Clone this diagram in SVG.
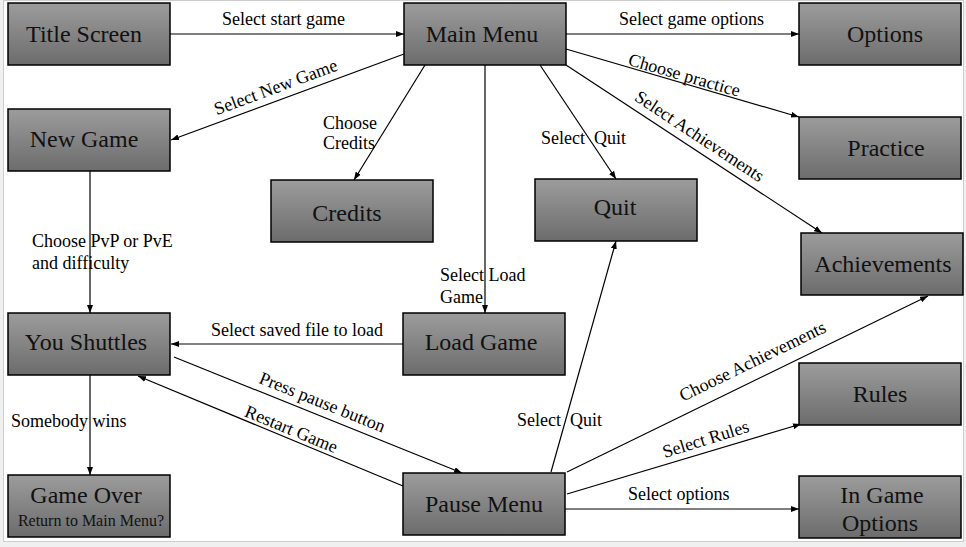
<svg xmlns="http://www.w3.org/2000/svg" width="966" height="547" viewBox="0 0 966 547" font-family="'Liberation Serif', 'Times New Roman', Times, serif">
<defs>
<linearGradient id="g" x1="0" y1="0" x2="0" y2="1">
<stop offset="0" stop-color="#9c9c9c"/>
<stop offset="1" stop-color="#6c6c6c"/>
</linearGradient>
<marker id="arr" viewBox="0 0 8 6" refX="8" refY="3" markerWidth="8" markerHeight="6" orient="auto" markerUnits="userSpaceOnUse">
<path d="M0,0 L8,3 L0,6 z" fill="#000"/>
</marker>
<style>
.box{fill:url(#g);stroke:#000;stroke-width:1.5}
.nt{font-family:'Liberation Serif','Times New Roman',Times,serif;font-size:24px;fill:#111;text-anchor:middle}
.st{font-family:'Liberation Serif','Times New Roman',Times,serif;font-size:16px;fill:#111;text-anchor:middle}
.lb{font-family:'Liberation Serif','Times New Roman',Times,serif;font-size:18px;fill:#000}
.lc{text-anchor:middle}
.edge{stroke:#000;stroke-width:1.2;fill:none;marker-end:url(#arr)}
</style>
</defs>
<rect x="0" y="0" width="966" height="547" fill="#f0f0f0"/>
<rect x="3.5" y="0.5" width="960" height="541" fill="#fff" stroke="#cdcdcd" stroke-width="1"/>

<g id="connectors">
<path class="edge" d="M170,34 H404"/>
<path class="edge" d="M566,34 H799"/>
<path class="edge" d="M404,54 L171,140"/>
<path class="edge" d="M425,65 L354,180"/>
<path class="edge" d="M485,65 V313"/>
<path class="edge" d="M540,65 L616,179"/>
<path class="edge" d="M566,49 L799,117"/>
<path class="edge" d="M566,65 L822,233"/>
<path class="edge" d="M90,171 V313"/>
<path class="edge" d="M403,344 H171"/>
<path class="edge" d="M174,357 L462,473"/>
<path class="edge" d="M403,486 L138,376"/>
<path class="edge" d="M90,375 V475"/>
<path class="edge" d="M551,472 L616,241"/>
<path class="edge" d="M567,472 L928,296"/>
<path class="edge" d="M567,494 L801,424"/>
<path class="edge" d="M565,509 H799"/>

<text class="lb" x="222" y="25">Select start game</text>
<text class="lb" x="619" y="25">Select game options</text>
<text class="lb lc" transform="translate(276,88) rotate(-20.4)" x="0" y="5">Select New Game</text>
<text class="lb" x="323" y="129">Choose</text>
<text class="lb" x="323" y="149">Credits</text>
<text class="lb" x="541" y="144" xml:space="preserve">Select  Quit</text>
<text class="lb lc" transform="translate(684,76) rotate(16.1)" x="0" y="5">Choose practice</text>
<text class="lb lc" transform="translate(699,137) rotate(33.4)" x="0" y="5">Select Achievements</text>
<text class="lb" x="32" y="247">Choose PvP or PvE</text>
<text class="lb" x="32" y="269">and difficulty</text>
<text class="lb" x="440" y="281">Select Load</text>
<text class="lb" x="440" y="303">Game</text>
<text class="lb" x="211" y="336">Select saved file to load</text>
<text class="lb lc" transform="translate(322,403) rotate(21.9)" x="0" y="5">Press pause button</text>
<text class="lb lc" transform="translate(291,430) rotate(22.2)" x="0" y="5">Restart Game</text>
<text class="lb" x="11" y="427">Somebody wins</text>
<text class="lb" x="517" y="426" xml:space="preserve">Select  Quit</text>
<text class="lb lc" transform="translate(753,362) rotate(-26)" x="0" y="5">Choose Achievements</text>
<text class="lb lc" transform="translate(706,440) rotate(-17.3)" x="0" y="5">Select Rules</text>
<text class="lb" x="628" y="500">Select options</text>
</g>

<g id="title-screen"><rect class="box" x="8" y="3" width="162" height="62"/><text class="nt" x="84" y="42">Title Screen</text></g>
<g id="main-menu"><rect class="box" x="404" y="3" width="162" height="62"/><text class="nt" x="482" y="42">Main Menu</text></g>
<g id="options"><rect class="box" x="799" y="3" width="162" height="62"/><text class="nt" x="885" y="42">Options</text></g>
<g id="new-game"><rect class="box" x="8" y="109" width="162" height="62"/><text class="nt" x="84" y="147">New Game</text></g>
<g id="practice"><rect class="box" x="799" y="117" width="162" height="62"/><text class="nt" x="886" y="156">Practice</text></g>
<g id="credits"><rect class="box" x="271" y="180" width="162" height="62"/><text class="nt" x="347" y="221">Credits</text></g>
<g id="quit"><rect class="box" x="535" y="179" width="162" height="62"/><text class="nt" x="615" y="215">Quit</text></g>
<g id="achievements"><rect class="box" x="801" y="233" width="162" height="62"/><text class="nt" x="883" y="272">Achievements</text></g>
<g id="you-shuttles"><rect class="box" x="8" y="313" width="162" height="62"/><text class="nt" x="86" y="350">You Shuttles</text></g>
<g id="load-game"><rect class="box" x="403" y="313" width="162" height="62"/><text class="nt" x="481" y="350">Load Game</text></g>
<g id="rules"><rect class="box" x="799" y="363" width="162" height="62"/><text class="nt" x="880" y="402">Rules</text></g>
<g id="game-over"><rect class="box" x="8" y="475" width="162" height="62"/><text class="nt" x="86" y="503">Game Over</text><text class="st" x="91" y="526">Return to Main Menu?</text></g>
<g id="pause-menu"><rect class="box" x="403" y="473" width="162" height="62"/><text class="nt" x="484" y="512">Pause Menu</text></g>
<g id="in-game-options"><rect class="box" x="799" y="476" width="162" height="62"/><text class="nt" x="882" y="503">In Game</text><text class="nt" x="880" y="531">Options</text></g>
</svg>
